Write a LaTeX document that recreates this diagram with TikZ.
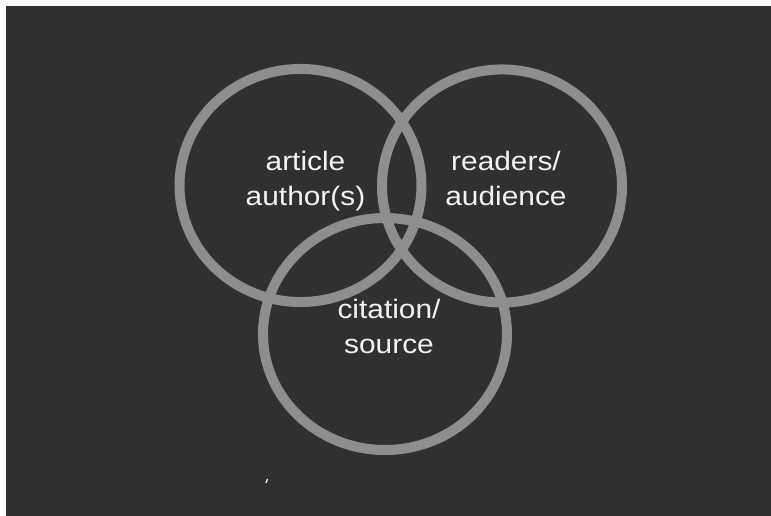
\documentclass[tikz,border=0pt]{standalone}
\usepackage{fontspec}
\setmainfont{Liberation Sans}[FakeStretch=1.12]
\definecolor{bggray}{HTML}{303030}
\definecolor{ringgray}{HTML}{8E8E8E}
\definecolor{textwhite}{HTML}{F2F2F2}
\begin{document}
\begin{tikzpicture}[x=0.75pt,y=-0.75pt,inner sep=0pt,
  ring/.style={draw=ringgray,line width=7.5pt},
  venntext/.style={text=textwhite,align=center,font=\fontsize{20}{26.25}\selectfont}]

\useasboundingbox (0,0) rectangle (771,516);
\fill[white] (0,0) rectangle (771,516);
\fill[bggray] (6,6) rectangle (771,516);

\draw[ring] (300.5,185.5) ellipse [x radius=90.75pt, y radius=87.4pt];
\draw[ring] (502,186) ellipse [x radius=90pt, y radius=87.4pt];
\draw[ring] (385,334) ellipse [x radius=91.5pt, y radius=87pt];

\node[venntext] (author) at (305.5,181) {article\\author(s)};
\node[venntext] (reader) at (506,178.5) {readers/\\audience};
\node[venntext] (source) at (389,326.5) {citation/\\source};

\draw[textwhite,line width=1pt] (266,483) -- (267.5,479);

\end{tikzpicture}
\end{document}
